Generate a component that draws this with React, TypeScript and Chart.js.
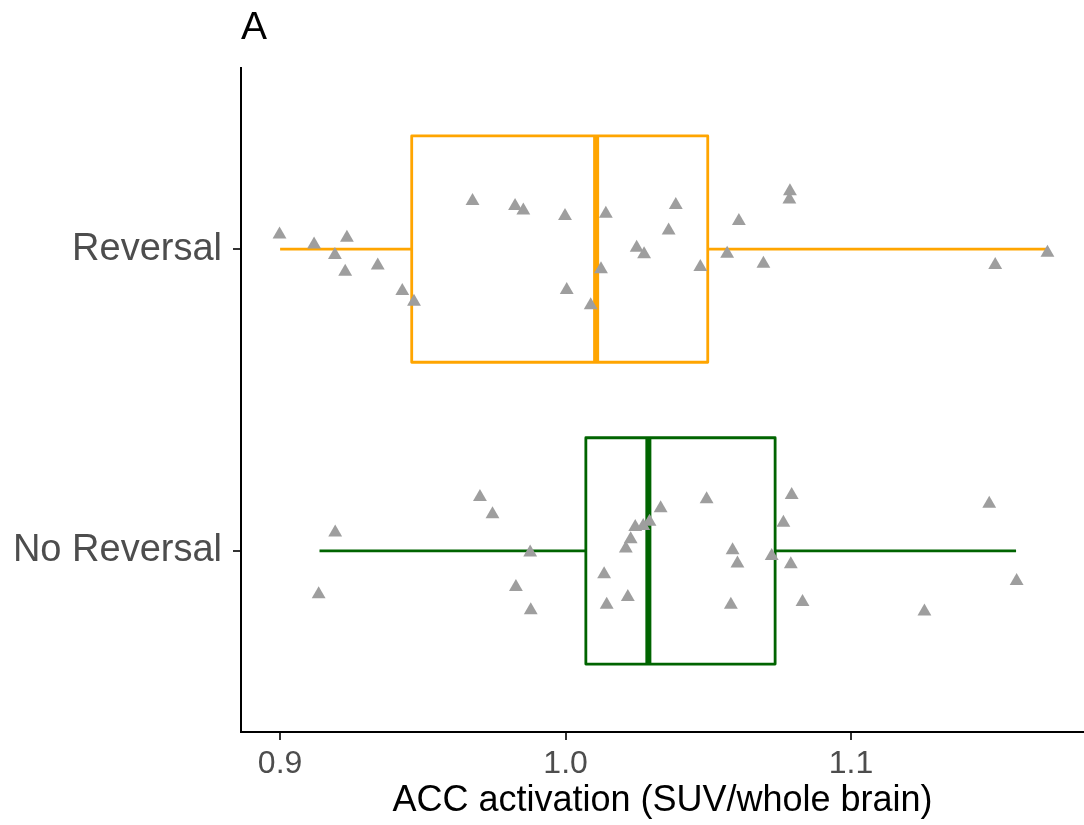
import { useEffect, useRef } from 'react';
import { Chart, registerables } from 'chart.js';

Chart.register(...registerables);

// Categories (index 0 = bottom row, 1 = top row)
const categories = ['No Reversal', 'Reversal'];
const boxColors = ['#006400', '#FFA500'];

// Box-plot statistics per category
const whiskerLow = [0.9138, 0.9];
const q1 = [1.0071, 0.9461];
const median = [1.029, 1.0107];
const q3 = [1.0734, 1.0498];
const whiskerHigh = [1.1578, 1.1688];

// Individual observations (x values) and their vertical jitter (category units)
const reversalValues = [
  0.8998, 0.9119, 0.9234, 0.9192, 0.9228, 0.9342, 0.9428, 0.9469, 0.9674, 0.9823,
  0.9852, 0.9998, 1.0004, 1.0141, 1.0124, 1.0088, 1.0249, 1.0275, 1.0386, 1.0361,
  1.0472, 1.0566, 1.0607, 1.0693, 1.0786, 1.0784, 1.1505, 1.1688,
];
const reversalJitter = [
  0.0487, 0.0156, 0.0374, -0.0199, -0.0752, -0.054, -0.139, -0.1745, 0.159, 0.1424,
  0.1281, 0.1093, -0.1358, 0.1169, -0.0672, -0.1864, 0.0043, -0.0175, 0.1457, 0.0619,
  -0.0596, -0.0156, 0.0927, -0.0487, 0.192, 0.1646, -0.053, -0.0123,
];
const noReversalValues = [
  0.9193, 0.9135, 0.97, 0.9744, 0.9876, 0.9826, 0.9878, 1.0135, 1.0144, 1.0218,
  1.0211, 1.0228, 1.0244, 1.0294, 1.0333, 1.0272, 1.0494, 1.0585, 1.0602, 1.0579,
  1.0722, 1.0792, 1.0763, 1.0789, 1.083, 1.1257, 1.1484, 1.158,
];
const noReversalJitter = [
  0.0606, -0.1434, 0.1788, 0.1215, -0.0056, -0.1192, -0.1964, -0.0772, -0.1788, -0.1523,
  0.0076, 0.0387, 0.0795, 0.097, 0.1414, 0.0828, 0.1712, 0.0023, -0.042, -0.1788,
  -0.0166, 0.1854, 0.0937, -0.044, -0.1689, -0.201, 0.1566, -0.0993,
];

const xTicks = [0.9, 1.0, 1.1];
const xMin = 0.8863;
const xMax = 1.1816;
const boxHalf = 0.375;

const FONT = "'Liberation Sans', Arial, sans-serif";

const boxPlugin = {
  id: 'boxplots',
  beforeDatasetsDraw(chart: any) {
    const { ctx, scales } = chart;
    const x = scales.x;
    const y = scales.y;
    const px = (v: number) => x.getPixelForValue(v);
    ctx.save();
    categories.forEach((_c, i) => {
      const yc = y.getPixelForValue(i);
      const yt = y.getPixelForValue(i + boxHalf);
      const yb = y.getPixelForValue(i - boxHalf);
      ctx.strokeStyle = boxColors[i];
      ctx.lineWidth = 2.8;
      ctx.lineCap = 'butt';
      ctx.beginPath();
      ctx.moveTo(px(whiskerLow[i]), yc);
      ctx.lineTo(px(q1[i]), yc);
      ctx.moveTo(px(q3[i]), yc);
      ctx.lineTo(px(whiskerHigh[i]), yc);
      ctx.stroke();
      ctx.fillStyle = '#ffffff';
      ctx.fillRect(px(q1[i]), yt, px(q3[i]) - px(q1[i]), yb - yt);
      ctx.lineJoin = 'round';
      ctx.strokeRect(px(q1[i]), yt, px(q3[i]) - px(q1[i]), yb - yt);
      ctx.lineWidth = 6;
      ctx.beginPath();
      ctx.moveTo(px(median[i]), yt);
      ctx.lineTo(px(median[i]), yb);
      ctx.stroke();
    });
    ctx.restore();
  },
};

export default function App() {
  const ref = useRef<HTMLCanvasElement | null>(null);

  useEffect(() => {
    if (!ref.current) return;
    const pointStyle = {
      pointStyle: 'triangle' as const,
      pointRadius: 8,
      pointBackgroundColor: '#9e9e9e',
      pointBorderWidth: 0,
      pointBorderColor: '#9e9e9e',
      showLine: false,
    };
    const chart = new Chart(ref.current, {
      type: 'scatter',
      data: {
        datasets: [
          {
            label: categories[1],
            data: reversalValues.map((v, k) => ({ x: v, y: 1 + reversalJitter[k] })),
            ...pointStyle,
          },
          {
            label: categories[0],
            data: noReversalValues.map((v, k) => ({ x: v, y: 0 + noReversalJitter[k] })),
            ...pointStyle,
          },
        ],
      },
      options: {
        animation: false,
        responsive: false,
        maintainAspectRatio: false,
        layout: { autoPadding: false, padding: { top: 0, right: 0, bottom: 0, left: 0 } },
        plugins: {
          legend: { display: false },
          tooltip: { enabled: false },
          title: {
            display: true,
            text: 'A',
            align: 'start',
            fullSize: false,
            color: '#000000',
            font: { family: FONT, size: 39, weight: 'normal' },
            padding: { top: 5, bottom: 16.2 },
          },
        },
        scales: {
          x: {
            type: 'linear',
            position: 'bottom',
            min: xMin,
            max: xMax,
            afterBuildTicks: (s: any) => {
              s.ticks = xTicks.map((v) => ({ value: v }));
            },
            afterFit: (s: any) => {
              s.height = 93;
              s.paddingLeft = 0;
              s.paddingRight = 0;
            },
            ticks: {
              color: '#4d4d4d',
              font: { family: FONT, size: 32 },
              padding: 5,
              maxRotation: 0,
              callback: (v: any) => Number(v).toFixed(1),
            },
            grid: {
              display: true,
              drawOnChartArea: false,
              drawTicks: true,
              tickLength: 8,
              color: '#333333',
              lineWidth: 2,
            },
            border: { display: true, color: '#000000', width: 2 },
            title: {
              display: true,
              text: 'ACC activation (SUV/whole brain)',
              color: '#000000',
              font: { family: FONT, size: 36 },
              padding: { top: 0, bottom: 2 },
            },
          },
          y: {
            type: 'linear',
            position: 'left',
            min: -0.6,
            max: 1.6,
            afterBuildTicks: (s: any) => {
              s.ticks = categories.map((_c, i) => ({ value: i }));
            },
            afterFit: (s: any) => {
              s.width = 241;
              s.paddingTop = 0;
              s.paddingBottom = 0;
            },
            ticks: {
              color: '#4d4d4d',
              font: { family: FONT, size: 38 },
              padding: 11,
              callback: (v: any) => categories[Math.round(Number(v))] ?? '',
            },
            grid: {
              display: true,
              drawOnChartArea: false,
              drawTicks: true,
              tickLength: 8,
              color: '#333333',
              lineWidth: 2,
            },
            border: { display: true, color: '#000000', width: 2 },
          },
        },
      },
      plugins: [boxPlugin],
    });
    return () => chart.destroy();
  }, []);

  return (
    <div style={{ position: 'fixed', left: 0, top: 0, width: 1084, height: 825, background: '#ffffff' }}>
      <canvas ref={ref} width={1084} height={825} style={{ width: 1084, height: 825, display: 'block' }} />
    </div>
  );
}
